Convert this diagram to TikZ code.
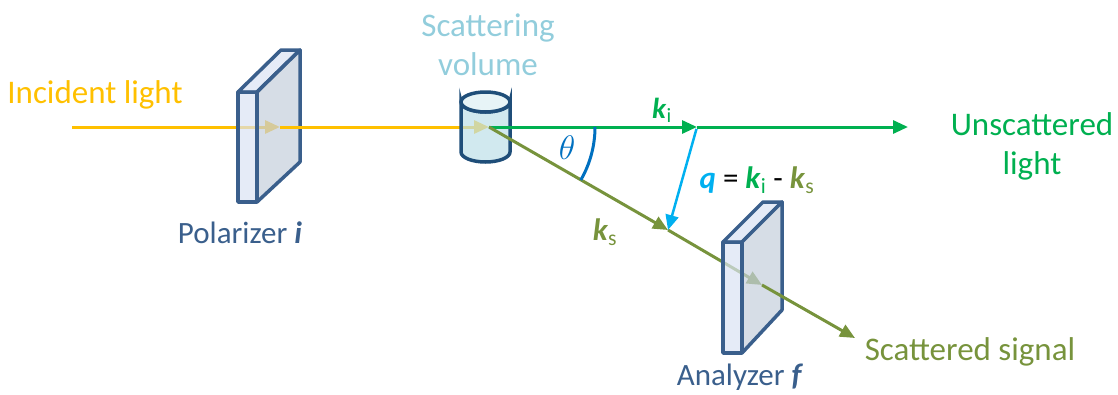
\documentclass[tikz,border=0pt]{standalone}
\usepackage{fix-cm}
\usepackage{fontspec}
\setmainfont{Carlito}
\usepackage{tikz}
\usetikzlibrary{arrows.meta}
\usetikzlibrary{positioning}
\usepackage{amsmath}

\definecolor{incid}{RGB}{255,192,0}
\definecolor{unsc}{RGB}{0,176,80}
\definecolor{scat}{RGB}{119,147,60}
\definecolor{qcol}{RGB}{0,176,240}
\definecolor{thcol}{RGB}{0,112,192}
\definecolor{plate}{RGB}{58,95,140}
\definecolor{volc}{RGB}{146,205,220}

\newcommand{\kv}[1]{\textbf{\textit{k}}\textsubscript{#1}}

\begin{document}
\begin{tikzpicture}[x=1pt, y=-1pt]
\tikzstyle{beam}=[line width=3pt, -{Triangle[length=15pt,width=13pt]}];
\tikzstyle{txt}=[inner sep=0pt, align=center, font=\fontsize{33}{39}\selectfont];
\tikzstyle{sml}=[inner sep=0pt, font=\fontsize{31}{36}\selectfont];
\tikzstyle{slab}=[draw=plate, line width=3.5pt, line join=round, fill opacity=0.7];
\useasboundingbox (0,0) rectangle (1118,394);
% beam points
\coordinate (src) at (72,127);
\coordinate (pol) at (280,127);
\coordinate (vol) at (489,127);
\coordinate (ki) at (697,127);
\coordinate (out) at (908,127);
\coordinate (ks) at (668,230);
\coordinate (ana) at (762,285);
\coordinate (sig) at (855,338);
% incident beam, behind the polarizer
\draw[beam, incid] (src) -- (pol);
\begin{scope}[shift={(238,92)}, slab]
 \filldraw[fill={rgb,255:red,218;green,227;blue,243}] (0,0) rectangle (19,110);
 \filldraw[fill={rgb,255:red,218;green,227;blue,243}] (0,0) -- (43,-42) -- (62,-42) -- (19,0) -- cycle;
 \filldraw[fill={rgb,255:red,197;green,207;blue,220}] (19,0) -- (62,-42) -- (62,70) -- (19,110) -- cycle;
\end{scope}
\draw[beam, incid] (pol) -- (vol);
% scattering volume
\filldraw[draw={rgb,255:red,31;green,78;blue,121}, line width=3.5pt, fill={rgb,255:red,190;green,224;blue,232}, fill opacity=0.7]
 (461,102) -- (461,152) arc (180:0:24.5 and 10) -- (510,102) arc (0:180:24.5 and 10) -- cycle;
\filldraw[draw={rgb,255:red,31;green,78;blue,121}, line width=3.5pt, fill={rgb,255:red,221;green,240;blue,244}, fill opacity=0.7]
 (485.5,102) ellipse (24.5 and 10);
% transmitted and scattered beams
\draw[beam, unsc] (vol) -- (ki);
\draw[beam, unsc] (ki) -- (out);
\draw[beam, scat] (vol) -- (ks);
\draw[beam, scat] (ks) -- (ana);
\begin{scope}[shift={(723,242)}, slab]
 \filldraw[fill={rgb,255:red,218;green,227;blue,243}] (0,0) rectangle (19,111);
 \filldraw[fill={rgb,255:red,218;green,227;blue,243}] (0,0) -- (40,-40) -- (59,-40) -- (19,0) -- cycle;
 \filldraw[fill={rgb,255:red,197;green,207;blue,220}] (19,0) -- (59,-40) -- (59,68) -- (19,111) -- cycle;
\end{scope}
\draw[beam, scat] (ana) -- (sig);
\draw[beam, qcol, line width=2.5pt, shorten <=2pt] (ki) -- (ks);
% angle
\draw[thcol, line width=3pt] (vol) ++(0:106) arc (0:30:106);
\node[thcol, inner sep=0pt, font=\fontsize{34}{40}\selectfont] (th) at (567,148) {$\theta$};
% labels
\node[txt, incid] (linc) at (95,95) {Incident light};
\node[sml, plate] (lpol) at (240,233) {Polarizer \textbf{\textit{i}}};
\node[txt, volc] (lvol) at (488,45) {Scattering\\volume};
\node[sml, unsc, font=\fontsize{29}{34}\selectfont] (lki) at (662,110) {\kv{i}};
\node[sml, scat] (lks) at (605,232) {\kv{s}};
\node[txt, font=\fontsize{31}{36}\selectfont] (lq) at (757,180) {\textcolor{qcol}{\textbf{\textit{q}}} = \textcolor{unsc}{\kv{i}} - \textcolor{scat}{\kv{s}}};
\node[txt, unsc] (lout) at (1032,146) {Unscattered\\light};
\node[txt, scat] (lsig) at (970,352) {Scattered signal};
\node[sml, plate] (lana) at (740,377) {Analyzer \textbf{\textit{f}}};
\end{tikzpicture}
\end{document}
